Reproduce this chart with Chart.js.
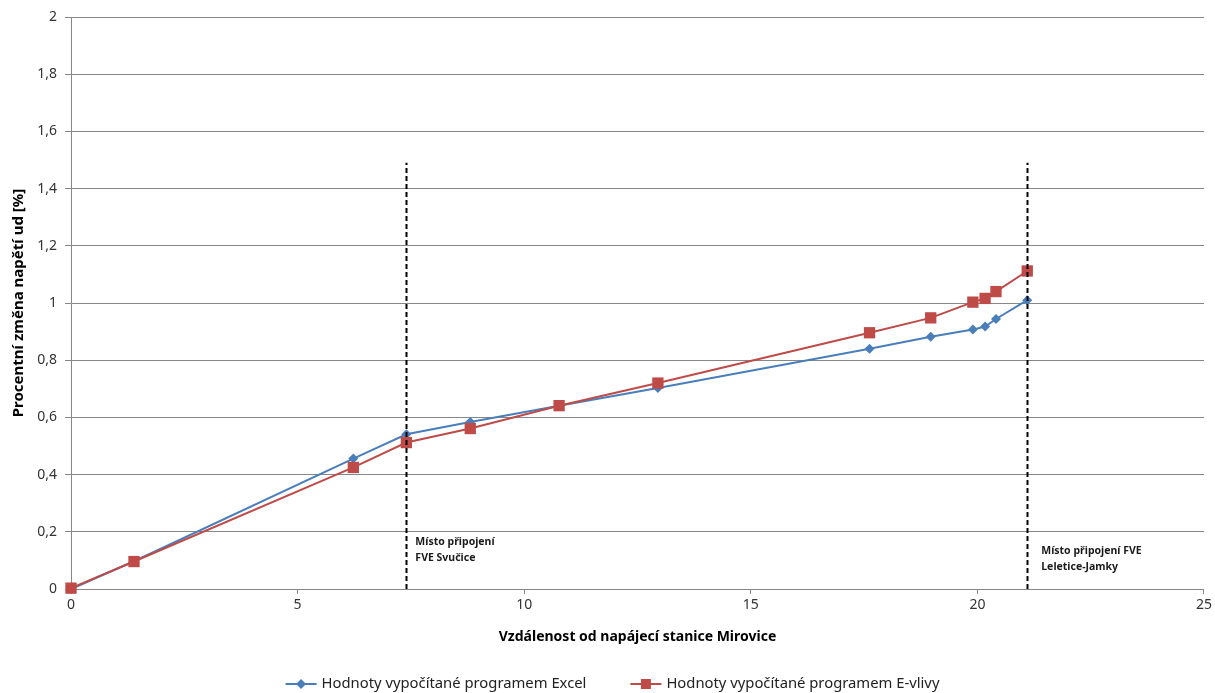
<!DOCTYPE html>
<html lang="cs">
<head>
  <meta charset="UTF-8" />
  <title>Procentní změna napětí</title>
  <script src="https://cdn.jsdelivr.net/npm/chart.js"></script>
  <style>
    html, body { margin: 0; padding: 0; background: #fff; }
    #wrap { width: 1215px; height: 693px; }
  </style>
</head>
<body>
  <div id="wrap"><canvas id="napetiChart" width="1215" height="693"></canvas></div>

  <script>
    // Data
    const vzdalenost = [0, 1.39, 6.23, 7.4, 8.81, 10.77, 12.95, 17.62, 18.97, 19.9, 20.17, 20.41, 21.1];
    const hodnotyExcel = [0, 0.097, 0.456, 0.541, 0.584, 0.641, 0.703, 0.84, 0.882, 0.907, 0.918, 0.944, 1.01];
    const hodnotyEvlivy = [0.003, 0.096, 0.425, 0.512, 0.561, 0.641, 0.72, 0.896, 0.948, 1.003, 1.016, 1.04, 1.112];

    const mistaPripojeni = [7.4, 21.1];
    const vyskaCar = 1.49;
    const popiskyPripojeni = [
      ["Místo připojení", "FVE Svučice"],
      ["Místo připojení FVE", "Leletice-Jamky"]
    ];

    const nazvySerii = ["Hodnoty vypočítané programem Excel", "Hodnoty vypočítané programem E-vlivy"];
    const barvy = ["#4A7EBB", "#BE4B48"];
    const font = "'Noto Sans', 'DejaVu Sans', sans-serif";

    const toPoints = ys => vzdalenost.map((x, i) => ({ x, y: ys[i] }));

    // svislé přerušované čáry + popisky
    const pripojeniPlugin = {
      id: "pripojeni",
      afterDatasetsDraw(chart) {
        const { ctx, scales: { x, y } } = chart;
        ctx.save();
        ctx.strokeStyle = "#000";
        ctx.lineWidth = 2;
        ctx.setLineDash([5, 3]);
        mistaPripojeni.forEach(v => {
          const px = Math.round(x.getPixelForValue(v)) + 0.5;
          ctx.beginPath();
          ctx.moveTo(px, y.getPixelForValue(0));
          ctx.lineTo(px, y.getPixelForValue(vyskaCar));
          ctx.stroke();
        });
        ctx.setLineDash([]);
        ctx.fillStyle = "#1a1a1a";
        ctx.font = "bold 10.5px " + font;
        ctx.textBaseline = "middle";
        const posun = [9, 14];
        const horni = [0.165, 0.133];
        popiskyPripojeni.forEach((lines, i) => {
          const px = x.getPixelForValue(mistaPripojeni[i]) + posun[i];
          const py = y.getPixelForValue(horni[i]);
          lines.forEach((t, j) => ctx.fillText(t, px, py + j * 16));
        });
        ctx.restore();
      }
    };

    // legenda ve stylu Excelu (čára se značkou)
    const legendaPlugin = {
      id: "legenda",
      afterDraw(chart) {
        const { ctx } = chart;
        ctx.save();
        ctx.font = "14.8px " + font;
        ctx.textBaseline = "middle";
        const ikona = 31, mezera = 5, odstup = 44;
        const sirky = nazvySerii.map(t => ikona + mezera + ctx.measureText(t).width);
        const celkem = sirky.reduce((a, b) => a + b, 0) + odstup;
        let cx = chart.width / 2 - celkem / 2 + 5;
        const cy = 684;
        nazvySerii.forEach((t, i) => {
          ctx.strokeStyle = barvy[i];
          ctx.fillStyle = barvy[i];
          ctx.lineWidth = 2;
          ctx.beginPath();
          ctx.moveTo(cx, cy);
          ctx.lineTo(cx + ikona, cy);
          ctx.stroke();
          const mx = cx + ikona / 2;
          ctx.beginPath();
          if (i === 0) {
            ctx.moveTo(mx, cy - 5); ctx.lineTo(mx + 5, cy); ctx.lineTo(mx, cy + 5); ctx.lineTo(mx - 5, cy);
          } else {
            ctx.rect(mx - 5, cy - 5, 10, 10);
          }
          ctx.fill();
          ctx.fillStyle = "#222";
          ctx.fillText(t, cx + ikona + mezera, cy);
          cx += sirky[i] + odstup;
        });
        ctx.restore();
      }
    };

    const carTick = "#878787";

    new Chart(document.getElementById("napetiChart"), {
      type: "scatter",
      data: {
        datasets: [
          {
            label: nazvySerii[0],
            data: toPoints(hodnotyExcel),
            showLine: true,
            borderColor: barvy[0],
            backgroundColor: barvy[0],
            borderWidth: 2,
            pointStyle: "rectRot",
            pointRadius: 5,
            pointBorderWidth: 0,
            clip: false,
            order: 2
          },
          {
            label: nazvySerii[1],
            data: toPoints(hodnotyEvlivy),
            showLine: true,
            borderColor: barvy[1],
            backgroundColor: barvy[1],
            borderWidth: 2,
            pointStyle: "rect",
            pointRadius: 8,
            pointBorderWidth: 0,
            clip: false,
            order: 1
          }
        ]
      },
      options: {
        responsive: false,
        animation: false,
        layout: { padding: { top: 17, right: 11, left: 0, bottom: 0 } },
        plugins: {
          legend: { display: false },
          tooltip: { enabled: false }
        },
        scales: {
          x: {
            type: "linear",
            min: 0,
            max: 25,
            afterFit: s => { s.height = 104; },
            ticks: { stepSize: 5, padding: 3, color: "#333", font: { family: font, size: 14 } },
            grid: { drawOnChartArea: false, drawTicks: true, tickLength: 5, color: carTick },
            border: { color: carTick },
            title: {
              display: true,
              text: "Vzdálenost od napájecí stanice Mirovice",
              color: "#000",
              font: { family: font, size: 14, weight: "bold" },
              padding: { top: 0, bottom: 48 }
            }
          },
          y: {
            min: 0,
            max: 2,
            afterFit: s => { s.width = 71; },
            ticks: {
              stepSize: 0.2,
              padding: 8,
              color: "#333",
              font: { family: font, size: 14 },
              callback: v => {
                const r = Math.round(v * 10) / 10;
                return r % 1 === 0 ? String(r) : r.toFixed(1).replace(".", ",");
              }
            },
            grid: { color: carTick, tickLength: 6 },
            border: { color: carTick },
            title: {
              display: true,
              text: "Procentní změna napětí ud [%]",
              color: "#000",
              font: { family: font, size: 15, weight: "bold" },
              padding: { top: 10, bottom: 0 }
            }
          }
        }
      },
      plugins: [pripojeniPlugin, legendaPlugin]
    });
  </script>
</body>
</html>
